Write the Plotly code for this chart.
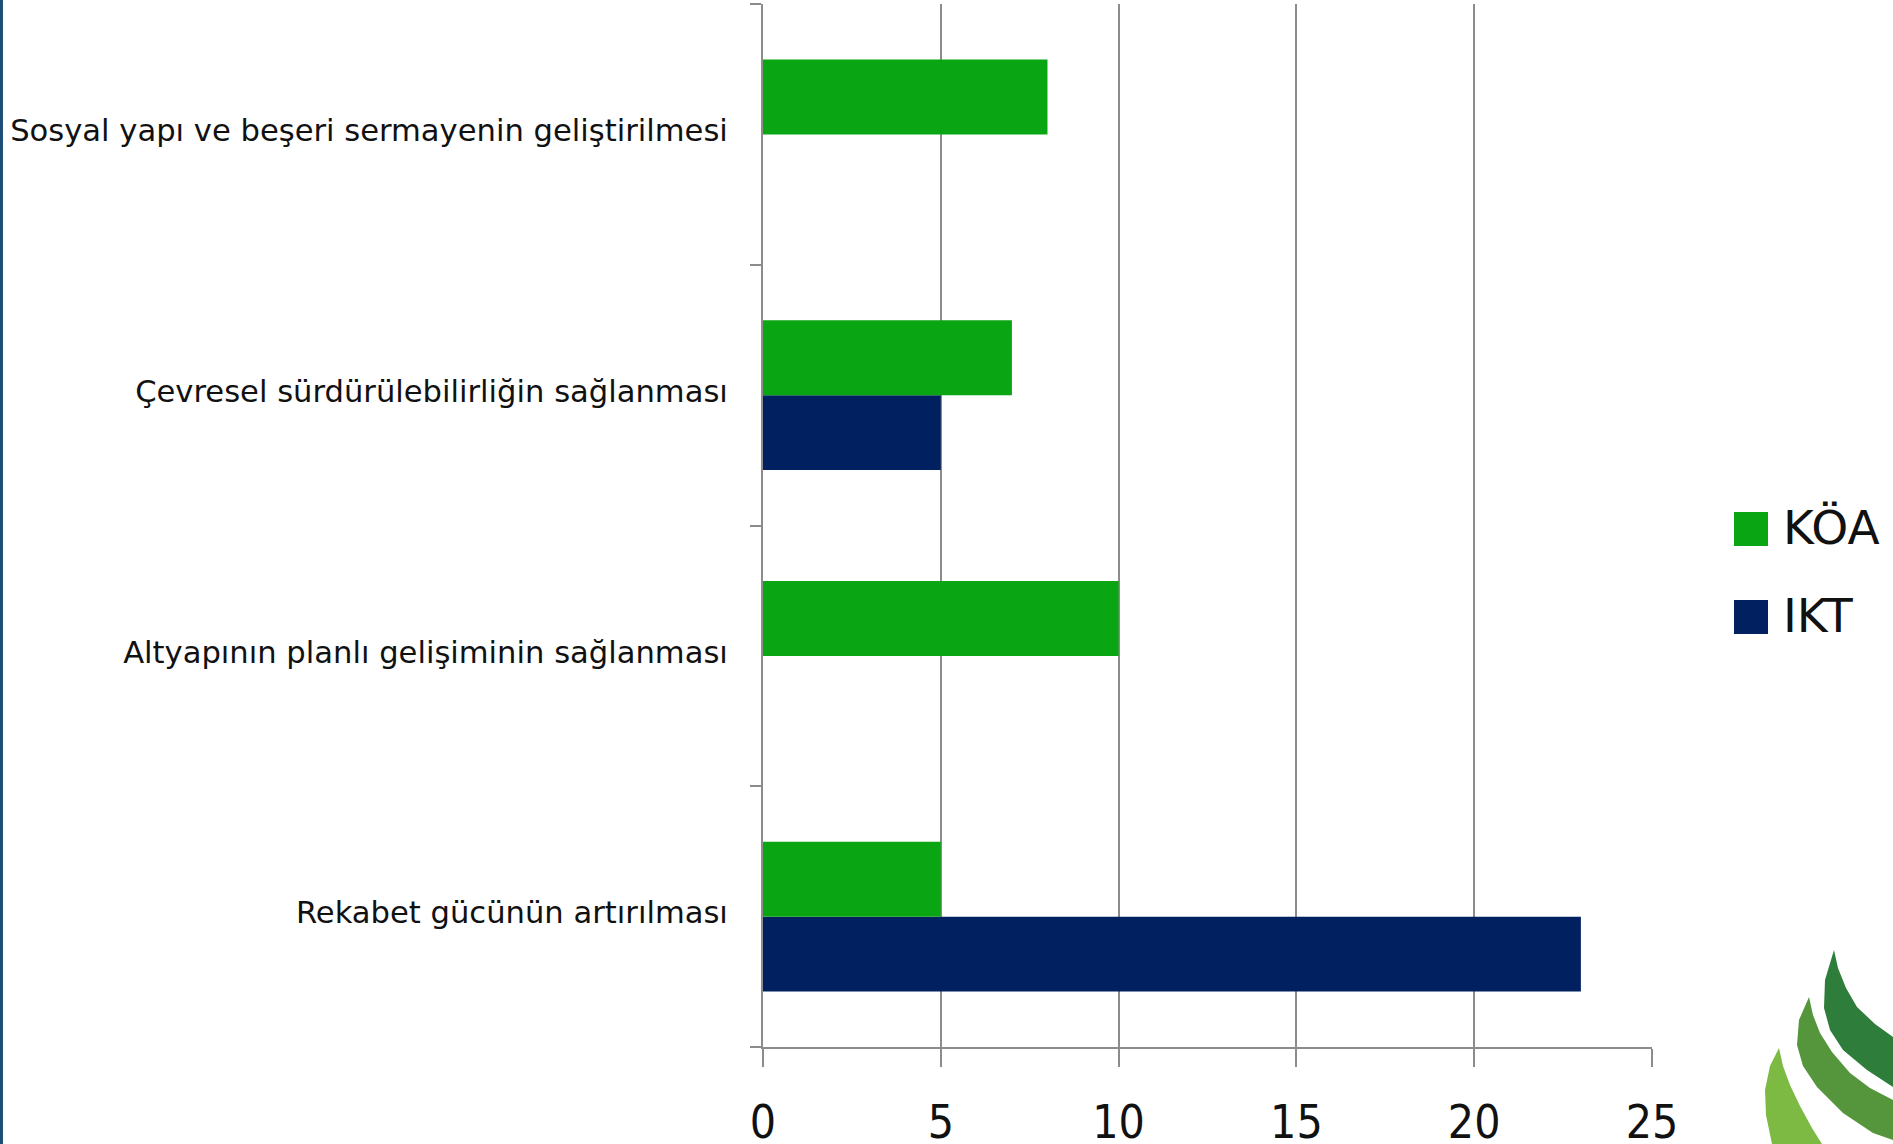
import plotly.graph_objects as go

categories = ["Rekabet gücünün artırılması",
              "Altyapının planlı gelişiminin sağlanması",
              "Çevresel sürdürülebilirliğin sağlanması",
              "Sosyal yapı ve beşeri sermayenin geliştirilmesi"]
koa_values = [5, 10, 7, 8]
ikt_values = [23, None, 5, None]
series_names = ["KÖA", "IKT"]
x_ticks = [0, 5, 10, 15, 20, 25]

GREEN = "#0aa512"
NAVY = "#00205f"
GRID = "#8c8c8c"

W, H = 1893, 1144
ML, MR, MT, MB = 763, 241, 4, 97
PW, PH = W - ML - MR, H - MT - MB


def px(x):
    return (x - ML) / PW


def py(y):
    return (H - MB - y) / PH


fig = go.Figure()
fig.add_trace(go.Bar(y=categories, x=ikt_values, orientation="h", name=series_names[1],
                     marker=dict(color=NAVY, line=dict(width=0)), showlegend=False))
fig.add_trace(go.Bar(y=categories, x=koa_values, orientation="h", name=series_names[0],
                     marker=dict(color=GREEN, line=dict(width=0)), showlegend=False))

shapes = []
annotations = []
# left blue border line
shapes.append(dict(type="rect", xref="paper", yref="paper", x0=px(0), x1=px(3), y0=py(H), y1=py(0),
                   fillcolor="#1f4e79", line=dict(width=0), layer="below"))

# manual legend (large squares)
legend_tops = [512, 600]
for name, col, top in zip(series_names, [GREEN, NAVY], legend_tops):
    shapes.append(dict(type="rect", xref="paper", yref="paper", x0=px(1734), x1=px(1768),
                       y0=py(top + 34), y1=py(top), fillcolor=col, line=dict(width=0)))
    annotations.append(dict(xref="paper", yref="paper", x=px(1781), y=py(top + 15), text=name,
                            showarrow=False, xanchor="left", yanchor="middle",
                            font=dict(family="DejaVu Sans", size=47, color="#111111")))


# decorative logo arcs at bottom right
def path(points):
    a0, b0 = points[0]
    s = f"M {px(a0):.5f},{py(b0):.5f}"
    for a, b in points[1:]:
        s += f" L {px(a):.5f},{py(b):.5f}"
    return s + " Z"

logo = [
    ("#2e7d3a", [(1834, 950), (1838, 968), (1846, 988), (1857, 1007), (1875, 1024), (1893, 1037),
                 (1893, 1087), (1867, 1070), (1843, 1050), (1830, 1030), (1824, 1008), (1825, 980)]),
    ("#55963c", [(1809, 997), (1813, 1015), (1820, 1033), (1832, 1052), (1850, 1073), (1870, 1088),
                 (1893, 1100), (1893, 1140), (1873, 1133), (1843, 1113), (1817, 1087), (1803, 1066),
                 (1797, 1045), (1799, 1020)]),
    ("#7dba44", [(1779, 1048), (1783, 1066), (1790, 1085), (1800, 1106), (1812, 1128), (1822, 1144),
                 (1772, 1144), (1766, 1115), (1765, 1090), (1770, 1066)]),
]
for col, pts in logo:
    shapes.append(dict(type="path", xref="paper", yref="paper", path=path(pts),
                       fillcolor=col, line=dict(width=0)))

fig.update_layout(
    width=W, height=H, autosize=False,
    margin=dict(l=ML, r=MR, t=MT, b=MB, pad=0, autoexpand=False),
    paper_bgcolor="white", plot_bgcolor="white",
    barmode="group", bargap=0.425, bargroupgap=0,
    showlegend=False,
    shapes=shapes, annotations=annotations,
    font=dict(family="DejaVu Sans", color="#111111"),
    xaxis=dict(range=[0, 25], tickvals=x_ticks, ticktext=[str(v) for v in x_ticks],
               automargin=False,
               showgrid=True, gridcolor=GRID, gridwidth=1.5,
               showline=True, linecolor=GRID, linewidth=2,
               ticks="outside", ticklen=18, tickcolor=GRID, tickwidth=1.5,
               zeroline=False, ticklabelstandoff=16,
               tickfont=dict(family="DejaVu Sans Condensed", size=46, color="#111111")),
    yaxis=dict(type="category", categoryorder="array", categoryarray=categories,
               range=[-0.5, 3.5], showgrid=False, automargin=False,
               showline=True, linecolor=GRID, linewidth=2,
               ticks="outside", tickson="boundaries", ticklen=11, tickcolor=GRID, tickwidth=1.5,
               ticklabelstandoff=27, ticklabelshift=-4,
               tickfont=dict(family="DejaVu Sans", size=30.6, color="#111111")),
)

fig.write_html("out.html",
               config={"displayModeBar": False, "responsive": False},
               post_script="document.body.style.margin='0px';document.body.style.overflow='hidden';")
